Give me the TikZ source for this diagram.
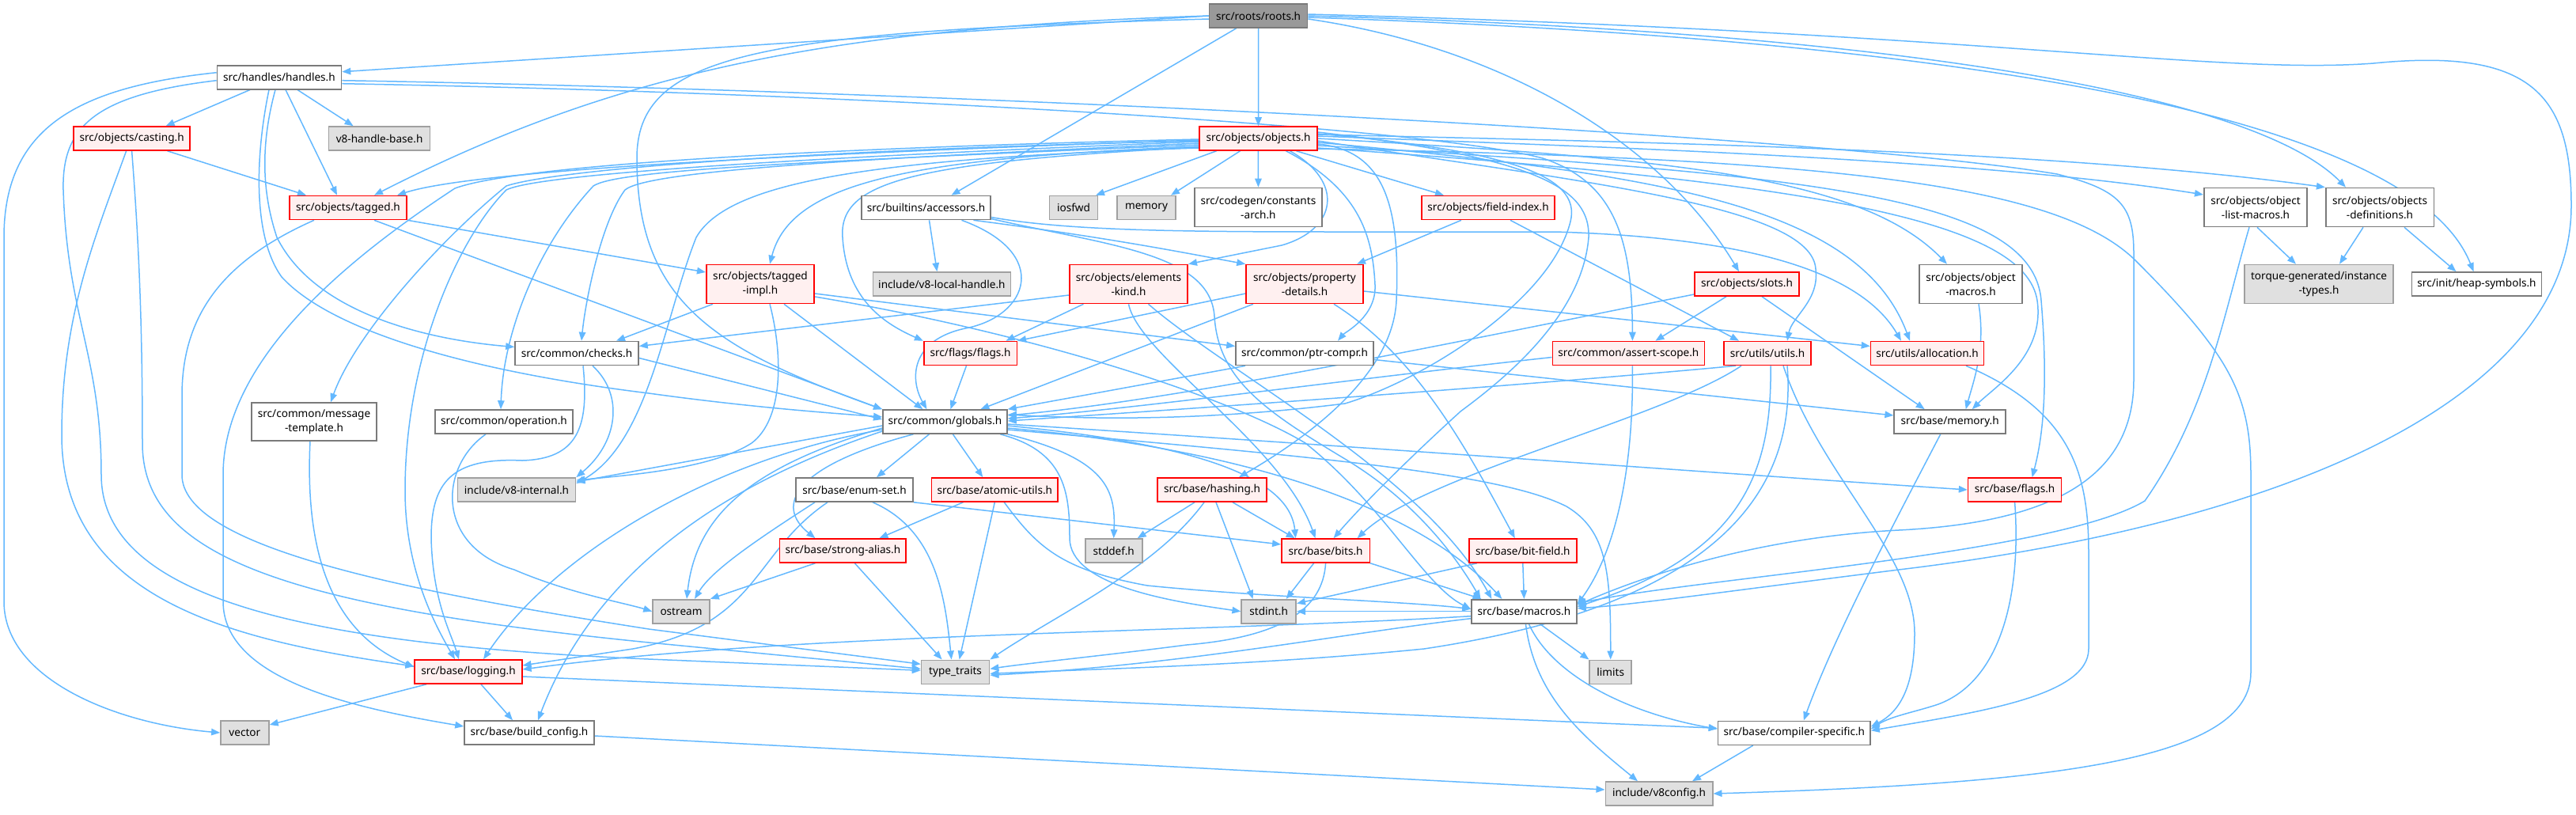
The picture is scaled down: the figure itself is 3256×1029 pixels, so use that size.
\documentclass[tikz,border=0pt]{standalone}
\usepackage{fontspec}
\usetikzlibrary{arrows.meta}
\newfontfamily\nodefont{Noto Sans}
\definecolor{edgec}{HTML}{63B8FF}
\definecolor{redfill}{HTML}{FFF0F0}
\definecolor{grayfill}{HTML}{E0E0E0}
\definecolor{nborder}{HTML}{7A7A7A}
\definecolor{gborder}{HTML}{A0A0A0}
\definecolor{rootfill}{HTML}{999999}
\pgfdeclarelayer{bg}
\pgfsetlayers{bg,main}
\tikzset{
  box/.style={draw=nborder, line width=1.6pt, fill=white, inner sep=0pt, minimum height=30pt,
    font={\nodefont\fontsize{13.6}{18}\selectfont}, align=center, text=black},
  two/.style={minimum height=49pt},
  bw/.style={minimum width=#1pt},
  rn/.style={draw=red, fill=redfill},
  gn/.style={draw=gborder, fill=grayfill},
  rt/.style={draw=nborder, fill=rootfill},
  e/.style={draw=edgec, line width=1.5pt, -{Triangle[length=11pt,width=8.5pt]}}
}
\begin{document}
\begin{tikzpicture}[x=1pt,y=1pt]
\useasboundingbox (0,0) rectangle (3256,-1029);
% nodes
\node[box,rt,bw=124] (roots) at (1590.6,-20) {src/roots/roots.h};
\node[box,bw=157] (handles) at (353,-97.7) {src/handles/handles.h};
\node[box,rn,bw=147] (casting) at (166.6,-175) {src/objects/casting.h};
\node[box,gn,bw=128] (vhb) at (479.6,-175) {v8-handle-base.h};
\node[box,rn,bw=149] (objects) at (1590.5,-175) {src/objects/objects.h};
\node[box,rn,bw=148.5] (tagged) at (440,-262.5) {src/objects/tagged.h};
\node[box,bw=163] (accessors) at (1170.5,-262.5) {src/builtins/accessors.h};
\node[box,gn,bw=61] (iosfwd) at (1357,-262.5) {iosfwd};
\node[box,gn,bw=74] (memory) at (1449,-262.5) {memory};
\node[box,two,bw=161] (constarch) at (1590.4,-262) {src/codegen/constants\\-arch.h};
\node[box,rn,bw=168] (fieldindex) at (1881,-262.5) {src/objects/field-index.h};
\node[box,two,bw=130.5] (olistmacros) at (2851,-262) {src/objects/object\\-list-macros.h};
\node[box,two,bw=136.6] (objdefs) at (3008,-262) {src/objects/objects\\-definitions.h};
\node[box,rn,two,bw=136.5] (taggedimpl) at (961,-359) {src/objects/tagged\\-impl.h};
\node[box,gn,bw=174] (localhandle) at (1190.4,-359) {include/v8-local-handle.h};
\node[box,rn,two,bw=149.5] (elemkind) at (1426.5,-359) {src/objects/elements\\-kind.h};
\node[box,rn,two,bw=148] (propdetails) at (1649,-359) {src/objects/property\\-details.h};
\node[box,rn,bw=132] (slots) at (2208,-359) {src/objects/slots.h};
\node[box,two,bw=130.5] (objmacros) at (2491,-359) {src/objects/object\\-macros.h};
\node[box,gn,two,bw=188] (torque) at (2931,-359) {torque-generated/instance\\-types.h};
\node[box,bw=164] (heapsym) at (3130.5,-359) {src/init/heap-symbols.h};
\node[box,bw=156] (checks) at (729,-446.5) {src/common/checks.h};
\node[box,rn,bw=117.6] (flagsflags) at (1226.5,-446.5) {src/flags/flags.h};
\node[box,bw=174] (ptrcompr) at (1649,-446.5) {src/common/ptr-compr.h};
\node[box,rn,bw=192] (assertscope) at (2058.4,-446.5) {src/common/assert-scope.h};
\node[box,rn,bw=110] (utils) at (2234,-446.5) {src/utils/utils.h};
\node[box,rn,bw=143] (allocation) at (2436,-446.5) {src/utils/allocation.h};
\node[box,two,bw=157.5,minimum height=48pt] (msgtemplate) at (397,-533) {src/common/message\\-template.h};
\node[box,bw=174] (operation) at (637,-533) {src/common/operation.h};
\node[box,bw=157] (globals) at (1194.4,-533) {src/common/globals.h};
\node[box,bw=141] (bmemory) at (2464.7,-533) {src/base/memory.h};
\node[box,gn,bw=149] (v8internal) at (653,-619) {include/v8-internal.h};
\node[box,bw=148.5] (enumset) at (1080,-619) {src/base/enum-set.h};
\node[box,rn,bw=159.5] (atomic) at (1257.3,-619) {src/base/atomic-utils.h};
\node[box,rn,bw=137.5] (hashing) at (1532,-619) {src/base/hashing.h};
\node[box,rn,bw=118] (bflags) at (2546.6,-619) {src/base/flags.h};
\node[box,rn,bw=159.5] (strongalias) at (1065.4,-696) {src/base/strong-alias.h};
\node[box,gn,bw=72] (stddef) at (1407.7,-696) {stddef.h};
\node[box,rn,bw=111.4] (bits) at (1675.6,-696) {src/base/bits.h};
\node[box,rn,bw=136] (bitfield) at (1924.8,-696) {src/base/bit-field.h};
\node[box,gn,bw=72] (ostream) at (861,-772.7) {ostream};
\node[box,gn,bw=69] (stdint) at (1603.7,-772.7) {stdint.h};
\node[box,bw=133] (macros) at (1926.4,-772.7) {src/base/macros.h};
\node[box,rn,bw=135.5] (logging) at (592,-849) {src/base/logging.h};
\node[box,gn,bw=86] (typetraits) at (1207.6,-849.3) {type\_traits};
\node[box,gn,bw=53] (limits) at (2035.7,-849.3) {limits};
\node[box,gn,bw=61] (vector) at (309.4,-926) {vector};
\node[box,bw=164] (buildconfig) at (669,-926) {src/base/build\_config.h};
\node[box,bw=192.5] (compspec) at (2267.8,-926.3) {src/base/compiler-specific.h};
\node[box,gn,bw=135.4] (v8config) at (2097,-1003) {include/v8config.h};
\begin{pgfonlayer}{bg}
% roots
\draw[e] (roots.west) -- ([yshift=7pt]handles.east);
\draw[e] (roots.west) .. controls (1050,-35) and (780,-90) .. ([xshift=33pt]tagged.north);
\draw[e] ([yshift=-4pt]roots.west) .. controls (950,-40) and (805,-70) .. (805,-200) .. controls (805,-380) and (900,-440) .. (globals.north west);
\draw[e] ([xshift=-28pt]roots.south) -- ([xshift=32pt]accessors.north);
\draw[e] (roots) -- (objects);
\draw[e] ([yshift=-4pt]roots.east) .. controls (1900,-60) and (2100,-180) .. ([xshift=-10pt]slots.north);
\draw[e] (roots.east) .. controls (2400,-40) and (2850,-120) .. ([xshift=-43pt]objdefs.north);
\draw[e] ([yshift=-2pt]roots.east) .. controls (2500,-50) and (3050,-150) .. ([xshift=-4pt]heapsym.north);
\draw[e] ([yshift=2pt]roots.east) .. controls (2500,-40) and (2800,-95) .. (3000,-80) .. controls (3200,-60) and (3250,-120) .. (3250,-260) .. controls (3250,-500) and (2900,-660) .. (2400,-720) .. controls (2200,-745) and (2060,-765) .. ([yshift=4pt]macros.east);
% handles
\draw[e] ([xshift=-37pt]handles.south) -- ([xshift=43pt]casting.north);
\draw[e] ([xshift=23pt]handles.south) -- ([xshift=-33pt]vhb.north);
\draw[e] ([xshift=8pt]handles.south) -- ([xshift=-14pt]tagged.north);
\draw[e] ([xshift=-5pt]handles.south) .. controls (330,-180) and (330,-240) .. (350,-300) .. controls (400,-400) and (550,-430) .. ([yshift=8pt]checks.west);
\draw[e] ([xshift=-13pt]handles.south) .. controls (322,-200) and (320,-300) .. (356,-350) .. controls (420,-420) and (600,-470) .. (820,-497) .. controls (950,-515) and (1050,-522) .. ([yshift=6pt]globals.west);
\draw[e] ([yshift=6pt]handles.west) .. controls (100,-110) and (5,-160) .. (5,-300) -- (5,-760) .. controls (5,-860) and (150,-915) .. (vector.west);
\draw[e] ([yshift=-4pt]handles.west) .. controls (120,-120) and (78,-160) .. (80,-240) .. controls (85,-400) and (128,-450) .. (128,-600) .. controls (128,-760) and (400,-815) .. (820,-833) -- ([yshift=2pt]typetraits.west);
\draw[e] ([yshift=-4pt]handles.east) .. controls (1200,-115) and (2300,-170) .. (2600,-220) .. controls (2680,-240) and (2697,-260) .. (2697,-320) -- (2697,-480) .. controls (2697,-600) and (2600,-660) .. (2400,-670) .. controls (2200,-680) and (2050,-740) .. ([yshift=8pt]macros.east);
\draw[e] ([yshift=-8pt]handles.east) .. controls (1100,-118) and (1800,-160) .. (1950,-200) .. controls (2040,-230) and (2063,-300) .. ([xshift=5pt]assertscope.north);
% casting
\draw[e] ([xshift=45pt]casting.south) -- ([xshift=-53pt]tagged.north);
\draw[e] ([xshift=-7pt]casting.south) .. controls (120,-300) and (78,-400) .. (78,-550) .. controls (78,-760) and (300,-810) .. ([yshift=7pt]logging.west);
\draw[e] (casting.south) .. controls (175,-300) and (180,-400) .. (180,-560) .. controls (180,-700) and (350,-765) .. (820,-812) -- ([yshift=4pt]typetraits.west);
% tagged
\draw[e] (tagged.south east) -- ([yshift=15pt]taggedimpl.west);
\draw[e] ([xshift=33pt]tagged.south) -- (globals.north west);
\draw[e] ([xshift=-43pt]tagged.south) .. controls (280,-330) and (230,-400) .. (230,-500) -- (230,-600) .. controls (230,-690) and (500,-745) .. (820,-795) -- ([yshift=10pt]typetraits.west);
% objects
\draw[e] ([yshift=-2pt]objects.west) .. controls (1000,-195) and (600,-215) .. ([xshift=62pt]tagged.north);
\draw[e] ([yshift=-6pt]objects.west) .. controls (1100,-200) and (820,-215) .. (790,-240) .. controls (760,-280) and (740,-380) .. ([xshift=6pt]checks.north);
\draw[e] ([yshift=-3pt]objects.west) .. controls (1000,-190) and (700,-215) .. (640,-235) .. controls (560,-300) and (450,-420) .. ([xshift=21pt]msgtemplate.north);
\draw[e] ([yshift=-1pt]objects.west) .. controls (1000,-188) and (650,-210) .. (575,-238) .. controls (450,-320) and (282,-450) .. (282,-600) -- (282,-760) .. controls (282,-860) and (450,-895) .. ([yshift=8pt]buildconfig.west);
\draw[e] ([yshift=-8pt]objects.west) .. controls (1000,-205) and (780,-215) .. (750,-235) .. controls (680,-310) and (636,-420) .. ([xshift=-4pt]operation.north);
\draw[e] ([yshift=-4pt]objects.west) .. controls (1000,-200) and (680,-220) .. (640,-240) .. controls (580,-300) and (512,-450) .. (512,-620) .. controls (512,-720) and (550,-790) .. ([xshift=-17pt]logging.north);
\draw[e] ([yshift=-10pt]objects.west) .. controls (1150,-200) and (1000,-230) .. ([xshift=12pt]taggedimpl.north);
\draw[e] ([yshift=-11pt]objects.west) .. controls (1150,-205) and (1060,-230) .. (1065,-300) .. controls (1070,-380) and (1120,-410) .. (flagsflags.north west);
\draw[e] ([yshift=-12pt]objects.west) .. controls (1100,-200) and (920,-230) .. (880,-300) .. controls (840,-400) and (820,-560) .. ([yshift=8pt]v8internal.east);
\draw[e] ([yshift=6pt]objects.east) .. controls (1900,-190) and (2000,-220) .. (1985,-280) .. controls (1960,-380) and (1800,-480) .. (1700,-510) .. controls (1500,-535) and (1350,-528) .. ([yshift=9pt]globals.east);
\draw[e] ([yshift=8pt]objects.east) .. controls (1950,-200) and (2010,-240) .. (2008,-300) .. controls (2000,-400) and (1900,-480) .. (1846,-520) .. controls (1780,-580) and (1720,-640) .. ([xshift=10pt]bits.north);
\draw[e] ([xshift=40pt]objects.south) .. controls (1700,-230) and (1690,-290) .. (1620,-310) -- (elemkind.north east);
\draw[e] ([xshift=48pt]objects.south) -- ([xshift=-56pt]fieldindex.north);
\draw[e] ([xshift=35pt]objects.south) .. controls (1720,-240) and (1735,-300) .. (1738,-360) .. controls (1740,-400) and (1700,-420) .. ([xshift=42pt]ptrcompr.north);
\draw[e] ([xshift=-53pt]objects.south) -- ([xshift=28pt]iosfwd.north);
\draw[e] ([xshift=-23pt]objects.south) -- ([xshift=31pt]memory.north);
\draw[e] (objects) -- (constarch);
\draw[e] ([yshift=3pt]objects.east) .. controls (2000,-185) and (2500,-200) .. ([yshift=16pt]olistmacros.west);
\draw[e] ([yshift=5pt]objects.east) .. controls (2100,-180) and (2600,-190) .. (objdefs.north west);
\draw[e] (objects.east) .. controls (2100,-200) and (2350,-220) .. ([xshift=-30pt]objmacros.north);
\draw[e] ([yshift=-3pt]objects.east) .. controls (2000,-230) and (2290,-260) .. (2295,-340) .. controls (2300,-380) and (2265,-400) .. ([xshift=25pt]utils.north);
\draw[e] ([yshift=-5pt]objects.east) .. controls (2100,-220) and (2350,-260) .. ([xshift=-22pt]allocation.north);
\draw[e] ([yshift=-7pt]objects.east) .. controls (1750,-190) and (1770,-260) .. (1765,-380) .. controls (1760,-480) and (1640,-560) .. ([xshift=34pt]hashing.north);
\draw[e] ([yshift=-9pt]objects.east) .. controls (2300,-220) and (2570,-250) .. (2580,-380) .. controls (2590,-500) and (2580,-560) .. ([xshift=22pt]bflags.north);
\draw[e] ([yshift=-13pt]objects.east) .. controls (2300,-200) and (2600,-230) .. (2700,-330) .. controls (2820,-450) and (2845,-500) .. (2845,-600) -- (2845,-850) .. controls (2845,-960) and (2600,-990) .. (v8config.east);
\draw[e] ([yshift=-12pt]objects.east) .. controls (2300,-230) and (2560,-280) .. (2575,-380) .. controls (2585,-450) and (2520,-490) .. ([xshift=28pt]bmemory.north);
% accessors
\draw[e] ([xshift=4pt]accessors.south) -- ([xshift=-6pt]localhandle.north);
\draw[e] ([xshift=45pt]accessors.south) .. controls (1330,-320) and (1300,-400) .. (1220,-415) .. controls (1150,-430) and (1150,-480) .. ([xshift=-23pt]globals.north);
\draw[e] ([xshift=60pt]accessors.south) .. controls (1400,-300) and (1500,-320) .. (propdetails.north west);
\draw[e] ([yshift=-12pt]accessors.east) .. controls (1350,-292) and (1500,-293) .. (1700,-293) -- (1966,-293) .. controls (2200,-300) and (2350,-340) .. ([xshift=-33pt]allocation.north);
\draw[e] ([yshift=-14pt]accessors.east) .. controls (1400,-310) and (1530,-320) .. (1535,-400) .. controls (1540,-480) and (1600,-520) .. (1700,-580) .. controls (1800,-640) and (1850,-720) .. ([xshift=-55pt]macros.north);
% tagged-impl
\draw[e] ([xshift=-60pt]taggedimpl.south) -- ([xshift=50pt]checks.north);
\draw[e] ([xshift=30pt]taggedimpl.south) -- ([xshift=-28pt]globals.north);
\draw[e] ([xshift=12pt]taggedimpl.south) .. controls (990,-450) and (990,-530) .. (950,-560) .. controls (900,-592) and (800,-600) .. ([yshift=12pt]v8internal.east);
\draw[e] ([yshift=-12pt]taggedimpl.east) -- ([yshift=9pt]ptrcompr.west);
\draw[e] ([yshift=-16pt]taggedimpl.east) .. controls (1300,-420) and (1550,-500) .. (1650,-560) .. controls (1750,-640) and (1800,-740) .. ([yshift=3pt]macros.west);
% checks
\draw[e] ([yshift=-6pt]checks.east) -- ([yshift=3pt]globals.west);
\draw[e] ([xshift=20pt]checks.south) .. controls (790,-500) and (780,-560) .. (v8internal.north east);
\draw[e] ([xshift=8pt]checks.south) .. controls (745,-540) and (730,-580) .. (660,-582) .. controls (570,-578) and (545,-610) .. (545,-680) .. controls (547,-760) and (570,-800) .. ([xshift=-12pt]logging.north);
% message-template, operation
\draw[e] ([xshift=-5pt]msgtemplate.south) .. controls (385,-700) and (420,-800) .. ([yshift=6pt]logging.west);
\draw[e] ([xshift=-23pt]operation.south) .. controls (555,-590) and (550,-690) .. (650,-720) .. controls (720,-750) and (790,-762) .. (ostream.west);
% flags, ptr-compr, property-details, field-index, elements-kind, slots
\draw[e] ([xshift=-5pt]flagsflags.south) -- ([xshift=7pt]globals.north);
\draw[e] ([xshift=-75pt]ptrcompr.south) -- (globals.north east);
\draw[e] ([yshift=-8pt]ptrcompr.east) -- ([yshift=8pt]bmemory.west);
\draw[e] ([yshift=-12pt]propdetails.west) -- (flagsflags.north east);
\draw[e] ([xshift=-65pt]propdetails.south) -- ([xshift=45pt]globals.north);
\draw[e] ([yshift=-9pt]propdetails.east) -- ([yshift=9pt]allocation.west);
\draw[e] ([xshift=37pt]propdetails.south) .. controls (1790,-450) and (1850,-560) .. ([xshift=-10pt]bitfield.north);
\draw[e] ([xshift=-34pt]fieldindex.south) -- ([xshift=66pt]propdetails.north);
\draw[e] ([xshift=28pt]fieldindex.south) -- ([xshift=-36pt]utils.north);
\draw[e] ([yshift=-14pt]elemkind.west) -- ([yshift=9pt]checks.east);
\draw[e] ([xshift=-57pt]elemkind.south) -- ([xshift=45pt]flagsflags.north);
\draw[e] (elemkind.south) .. controls (1440,-450) and (1620,-560) .. ([xshift=-13pt]bits.north);
\draw[e] ([xshift=25pt]elemkind.south) .. controls (1550,-470) and (1800,-600) .. ([xshift=-41pt]macros.north);
\draw[e] ([yshift=-13pt]slots.west) .. controls (1900,-420) and (1500,-505) .. ([yshift=8pt]globals.east);
\draw[e] ([xshift=-26pt]slots.south) -- ([xshift=34pt]assertscope.north);
\draw[e] ([xshift=19pt]slots.south) -- ([xshift=-32pt]bmemory.north);
% object macros, list macros, definitions
\draw[e] ([xshift=10pt]objmacros.south) .. controls (2510,-440) and (2495,-480) .. ([xshift=20pt]bmemory.north);
\draw[e] ([xshift=2pt]olistmacros.south) -- ([xshift=-29pt]torque.north);
\draw[e] ([xshift=-8pt]olistmacros.south) .. controls (2810,-400) and (2790,-520) .. (2711,-633) .. controls (2600,-700) and (2150,-730) .. ([yshift=10pt]macros.east);
\draw[e] ([xshift=-21pt]objdefs.south) -- ([xshift=26pt]torque.north);
\draw[e] ([xshift=31pt]objdefs.south) -- ([xshift=-26pt]heapsym.north);
% assert-scope
\draw[e] ([yshift=-5pt]assertscope.west) .. controls (1700,-480) and (1450,-515) .. ([yshift=4pt]globals.east);
\draw[e] ([xshift=5pt]assertscope.south) .. controls (2065,-600) and (2040,-700) .. ([yshift=9pt]macros.east);
% utils, allocation, memory, flags
\draw[e] ([xshift=-40pt]utils.south) .. controls (1900,-490) and (1450,-520) .. ([yshift=1pt]globals.east);
\draw[e] ([xshift=-33pt]utils.south) .. controls (2100,-530) and (1800,-600) .. ([xshift=40pt]bits.north);
\draw[e] ([xshift=4pt]utils.south) .. controls (2240,-600) and (2200,-700) .. ([yshift=6pt]macros.east);
\draw[e] ([xshift=25pt]utils.south) .. controls (2270,-600) and (2200,-760) .. (1800,-820) .. controls (1600,-840) and (1400,-845) .. ([yshift=-2pt]typetraits.east);
\draw[e] ([xshift=20pt]utils.south) .. controls (2300,-600) and (2420,-700) .. (2420,-800) .. controls (2420,-870) and (2400,-900) .. ([yshift=8pt]compspec.east);
\draw[e] ([xshift=49pt]allocation.south) .. controls (2620,-520) and (2640,-600) .. (2640,-700) -- (2640,-820) .. controls (2640,-880) and (2500,-900) .. ([yshift=3pt]compspec.east);
\draw[e] ([xshift=-12pt]bmemory.south) .. controls (2400,-650) and (2320,-800) .. ([xshift=12pt]compspec.north);
\draw[e] (bflags.south) .. controls (2555,-750) and (2530,-860) .. (2450,-890) .. controls (2420,-900) and (2390,-905) .. ([yshift=5pt]compspec.east);
% globals
\draw[e] ([yshift=-5pt]globals.west) -- ([yshift=10pt]v8internal.east);
\draw[e] ([xshift=-20pt]globals.south) -- ([xshift=28pt]enumset.north);
\draw[e] ([xshift=10pt]globals.south) -- ([xshift=-15pt]atomic.north);
\draw[e] ([xshift=-40pt]globals.south) .. controls (1000,-590) and (980,-640) .. ([xshift=-35pt]strongalias.north);
\draw[e] (globals.south east) .. controls (1400,-580) and (1410,-620) .. (stddef.north);
\draw[e] ([yshift=-8pt]globals.west) .. controls (950,-590) and (880,-650) .. ([xshift=7pt]ostream.north);
\draw[e] ([yshift=-10pt]globals.west) .. controls (900,-580) and (700,-700) .. ([xshift=19pt]logging.north);
\draw[e] ([yshift=-12pt]globals.west) .. controls (950,-600) and (760,-700) .. ([xshift=11pt]buildconfig.north);
\draw[e] ([yshift=-5pt]globals.east) .. controls (1500,-560) and (1630,-600) .. ([xshift=-38pt]bits.north);
\draw[e] ([xshift=70pt]globals.south) .. controls (1345,-570) and (1352,-620) .. (1352,-680) .. controls (1352,-740) and (1480,-760) .. (stdint.west);
\draw[e] ([yshift=-8pt]globals.east) .. controls (1600,-570) and (1800,-650) .. ([xshift=-28pt]macros.north);
\draw[e] ([yshift=-10pt]globals.east) .. controls (1700,-580) and (1900,-600) .. (1980,-640) .. controls (2030,-670) and (2036,-720) .. (limits.north);
\draw[e] ([yshift=-3pt]globals.east) .. controls (1800,-570) and (2200,-600) .. (bflags.west);
% enum-set, atomic-utils, hashing, strong-alias
\draw[e] (enumset.south east) -- ([yshift=8pt]bits.west);
\draw[e] ([xshift=-50pt]enumset.south) .. controls (960,-680) and (900,-720) .. ([xshift=17pt]ostream.north);
\draw[e] ([xshift=23pt]enumset.south) .. controls (1185,-670) and (1195,-760) .. ([xshift=-5pt]typetraits.north);
\draw[e] ([xshift=-34pt]enumset.south) .. controls (950,-700) and (960,-790) .. (800,-820) .. controls (720,-832) and (680,-838) .. ([yshift=8pt]logging.east);
\draw[e] ([xshift=-40pt]atomic.south) -- ([xshift=46pt]strongalias.north);
\draw[e] (atomic.south) -- ([xshift=5pt]typetraits.north);
\draw[e] ([xshift=12pt]atomic.south) .. controls (1310,-690) and (1340,-720) .. (1450,-740) .. controls (1600,-755) and (1780,-760) .. ([yshift=3pt]macros.west);
\draw[e] ([xshift=-22pt]hashing.south) -- ([xshift=30pt]stddef.north);
\draw[e] ([xshift=-10pt]hashing.south) .. controls (1460,-720) and (1330,-780) .. (typetraits.north east);
\draw[e] ([xshift=5pt]hashing.south) -- ([xshift=-20pt]stdint.north);
\draw[e] ([xshift=26pt]hashing.south) -- ([xshift=-39pt]bits.north);
\draw[e] ([xshift=-35pt]strongalias.south) -- (ostream.north east);
\draw[e] ([xshift=15pt]strongalias.south) -- ([xshift=-17pt]typetraits.north);
% bits, bit-field
\draw[e] ([xshift=-15pt]bits.south) -- ([xshift=22pt]stdint.north);
\draw[e] (bits.south east) -- ([xshift=-54pt]macros.north);
\draw[e] (bits.south) .. controls (1672,-770) and (1620,-805) .. (1500,-815) .. controls (1400,-828) and (1300,-838) .. ([yshift=4pt]typetraits.east);
\draw[e] ([xshift=-58pt]bitfield.south) -- ([yshift=10pt]stdint.east);
\draw[e] (bitfield.south) -- (macros.north);
% macros
\draw[e] (macros.west) -- (stdint.east);
\draw[e] ([xshift=20pt]macros.south) -- (limits.north west);
\draw[e] ([xshift=6pt]macros.south) .. controls (1960,-850) and (2050,-900) .. ([yshift=5pt]compspec.west);
\draw[e] ([xshift=2pt]macros.south) .. controls (1940,-880) and (2000,-930) .. ([xshift=-27pt]v8config.north);
\draw[e] ([yshift=-6pt]macros.west) .. controls (1500,-800) and (1000,-800) .. ([yshift=3pt]logging.east);
\draw[e] ([yshift=-9pt]macros.west) .. controls (1700,-800) and (1500,-840) .. ([yshift=-4pt]typetraits.east);
% logging, build_config, compiler-specific
\draw[e] ([xshift=-53pt]logging.south) -- ([yshift=10pt]vector.east);
\draw[e] ([xshift=16pt]logging.south) -- ([xshift=-21pt]buildconfig.north);
\draw[e] ([yshift=-6pt]logging.east) -- ([yshift=6pt]compspec.west);
\draw[e] ([yshift=-4pt]buildconfig.east) -- ([yshift=5pt]v8config.west);
\draw[e] ([xshift=-52pt]compspec.south) -- ([xshift=42pt]v8config.north);
\end{pgfonlayer}
\end{tikzpicture}
\end{document}
